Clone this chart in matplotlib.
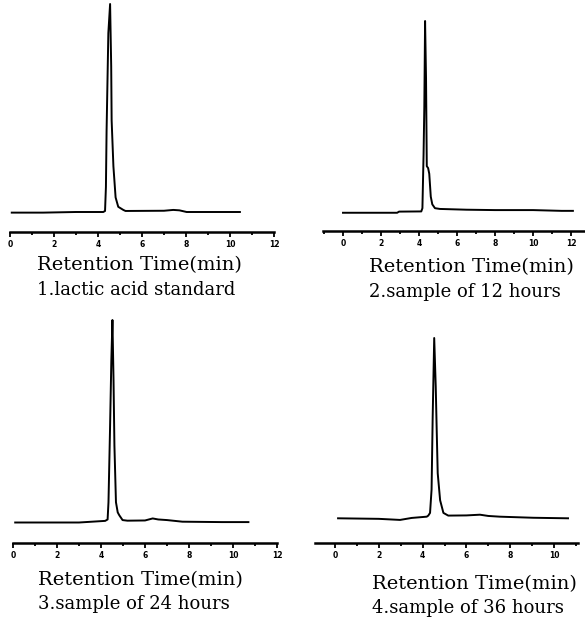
import matplotlib
matplotlib.use('Agg')
import matplotlib.pyplot as plt
from matplotlib.ticker import MultipleLocator

# retention time (min) and relative detector response (peak = 100)
t1 = [0.08, 1.5, 3.0, 4.24, 4.32, 4.36, 4.39, 4.47, 4.55, 4.60, 4.62, 4.70, 4.80, 4.92, 5.15, 5.25, 7.0, 7.42, 7.7, 8.03, 10.45]
s1 = [-0.3, -0.3, 0.0, 0.0, 0.5, 12, 39, 86, 100, 70, 44, 22, 7, 2.5, 1.0, 0.5, 0.6, 1.0, 0.8, 0.0, 0.0]

t2 = [0.0, 2.85, 2.95, 4.12, 4.18, 4.24, 4.28, 4.32, 4.37, 4.41, 4.48, 4.54, 4.62, 4.70, 4.84, 5.1, 6.5, 8.0, 10.0, 11.5, 12.1]
s2 = [-0.4, -0.4, 0.2, 0.3, 2, 30, 55, 100, 70, 24, 23, 20, 8, 4, 2, 1.6, 1.2, 1.0, 1.0, 0.6, 0.6]

t3 = [0.1, 3.0, 4.19, 4.30, 4.34, 4.41, 4.47, 4.52, 4.57, 4.61, 4.68, 4.76, 4.83, 4.98, 5.2, 6.0, 6.35, 6.6, 7.0, 7.7, 9.5, 10.7]
s3 = [0.0, 0.0, 0.8, 1.5, 10, 46, 80, 100, 70, 38, 10, 5, 3.6, 1.2, 0.9, 1.0, 2.0, 1.5, 1.2, 0.4, 0.2, 0.2]

t4 = [0.14, 2.0, 2.97, 3.5, 4.19, 4.26, 4.34, 4.41, 4.46, 4.53, 4.60, 4.64, 4.69, 4.80, 4.95, 5.17, 6.0, 6.62, 7.0, 7.53, 9.05, 10.64]
s4 = [0.0, -0.3, -0.9, 0.2, 0.9, 1.5, 3, 16, 56, 100, 73, 51, 25, 10, 3, 1.5, 1.6, 2.0, 1.3, 0.9, 0.3, 0.0]

xlabel = 'Retention Time(min)'
captions = ['1.lactic acid standard', '2.sample of 12 hours',
            '3.sample of 24 hours', '4.sample of 36 hours']
tick_top = [12, 12, 12, 10]

W, H = 585, 618
fig = plt.figure(figsize=(W / 100, H / 100), dpi=100)

# pixel layout: x of t=0, px per min, xlim, axis line y, baseline y, peak top y
panels = [
    (10, 22.0, (0, 12), 232, 212, 4),
    (343, 19.0, (-1.05, 12.7), 231, 212, 21),
    (13, 22.0, (0, 12), 543, 522.5, 320),
    (335, 21.9, (-0.92, 11.1), 543, 518.3, 338),
]
text_pos = [(37, 270, 295), (369, 272, 297), (38, 585, 609), (372, 589, 613)]

series = [(t1, s1), (t2, s2), (t3, s3), (t4, s4)]

for i, (x0, ppu, xl, ay, by, py) in enumerate(panels):
    left = x0 + ppu * xl[0]
    width = ppu * (xl[1] - xl[0])
    ax = fig.add_axes([left / W, 1 - ay / H, width / W, (ay - py) / H])
    t, s = series[i]
    ax.plot(t, s, color='black', lw=1.4, clip_on=False)
    ax.set_xlim(*xl)
    ax.set_ylim(-100 * (ay - by) / (by - py), 100)
    for sp in ['top', 'right', 'left']:
        ax.spines[sp].set_visible(False)
    ax.spines['bottom'].set_linewidth(1.8)
    ax.set_yticks([])
    ax.set_xticks(list(range(0, tick_top[i] + 1, 2)))
    ax.xaxis.set_minor_locator(MultipleLocator(1))
    ax.tick_params(axis='x', which='major', direction='out', length=3.5, width=1.3, pad=2,
                   labelsize=5.5)
    ax.tick_params(axis='x', which='minor', direction='out', length=2.5, width=1.3)
    for lab in ax.get_xticklabels():
        lab.set_fontweight('bold')
    ax.patch.set_visible(False)

    tx, y1, y2 = text_pos[i]
    fig.text(tx / W, 1 - y1 / H, xlabel, family='DejaVu Serif', fontsize=14,
             ha='left', va='baseline')
    fig.text(tx / W, 1 - y2 / H, captions[i], family='DejaVu Serif', fontsize=13,
             ha='left', va='baseline')

fig.savefig('out.png', dpi=100)
